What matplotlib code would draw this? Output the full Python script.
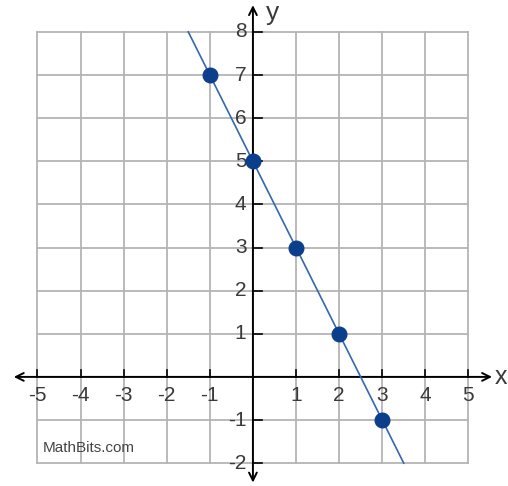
import matplotlib.pyplot as plt
import numpy as np

# points on the line y = -2x + 5
pts_x = [-1, 0, 1, 2, 3]
pts_y = [7, 5, 3, 1, -1]
slope = -2
intercept = 5

x_ticks = [-5, -4, -3, -2, -1, 1, 2, 3, 4, 5]
y_ticks = [-2, -1, 1, 2, 3, 4, 5, 6, 7, 8]

plt.rcParams['font.family'] = ['Liberation Sans', 'DejaVu Sans']

fig = plt.figure(figsize=(5.08, 4.86), dpi=100)
ax = fig.add_axes([0, 0, 1, 1])
ax.set_xlim(-5.87, 5.92)
ax.set_ylim(-2.53, 8.74)
ax.axis('off')

grid_col = '#b4b4b4'
# grid box -5..5 by -2..8
for gx in range(-5, 6):
    ax.plot([gx, gx], [-2, 8], color=grid_col, lw=1.3, zorder=1)
for gy in range(-2, 9):
    ax.plot([-5, 5], [gy, gy], color=grid_col, lw=1.3, zorder=1)

# axes with arrow heads
ax.annotate('', xy=(5.55, 0), xytext=(-5.55, 0),
            arrowprops=dict(arrowstyle='<->', color='black', lw=1.4,
                            shrinkA=0, shrinkB=0, mutation_scale=14), zorder=2)
ax.annotate('', xy=(0, 8.62), xytext=(0, -2.45),
            arrowprops=dict(arrowstyle='<->', color='black', lw=1.4,
                            shrinkA=0, shrinkB=0, mutation_scale=14), zorder=2)

# tick marks
for t in x_ticks:
    ax.plot([t, t], [0, 0.16], color='black', lw=1.2, zorder=2)
for t in y_ticks:
    ax.plot([0, 0.22], [t, t], color='black', lw=1.2, zorder=2)

txt_col = '#3a3a3a'
for t in x_ticks:
    ax.text(t, -0.22, str(t), ha='center', va='top', fontsize=15, color=txt_col)
for t in y_ticks:
    ax.text(-0.15, t, str(t), ha='right', va='center', fontsize=15, color=txt_col)

ax.text(5.75, 0, 'x', ha='center', va='center', fontsize=18, color=txt_col)
ax.text(0.45, 8.45, 'y', ha='center', va='center', fontsize=19, color=txt_col)

# line y = -2x + 5 clipped to the grid
lx = np.array([(8 - intercept) / slope, (-2 - intercept) / slope])
ax.plot(lx, slope * lx + intercept, color='#2f68b4', lw=1.2, zorder=3)
ax.plot(pts_x, pts_y, 'o', color='#0b3f8c', markersize=10.5, zorder=4)

ax.text(-4.88, -1.65, 'MathBits.com', ha='left', va='center', fontsize=11, color='#444444')

fig.savefig('out.png', dpi=100)
